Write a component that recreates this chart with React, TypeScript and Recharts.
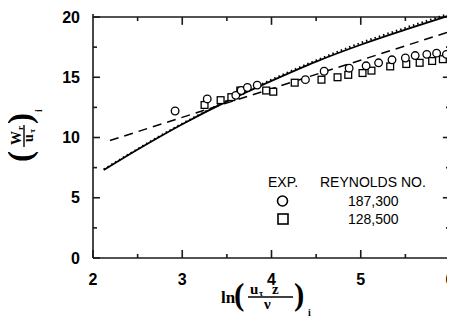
import React from "react";
import { ComposedChart, Line, XAxis, YAxis, ReferenceLine } from "recharts";

// axis ticks (integers get labels, halves are minor ticks)
const xTicks = [2, 2.5, 3, 3.5, 4, 4.5, 5, 5.5, 6];
const yTicks = [0, 2.5, 5, 7.5, 10, 12.5, 15, 17.5, 20];

// experiment, Re = 187,300 (circles)
const circleX = [2.92, 3.28, 3.6, 3.66, 3.73, 3.84, 4.38, 4.59, 4.87, 5.06, 5.2, 5.35, 5.5, 5.61, 5.74, 5.85, 5.96];
const circleY = [12.2, 13.2, 13.5, 13.9, 14.15, 14.35, 14.8, 15.5, 15.75, 15.95, 16.2, 16.45, 16.6, 16.8, 16.9, 17.0, 16.9];

// experiment, Re = 128,500 (squares)
const squareX = [3.25, 3.43, 3.55, 3.65, 3.94, 4.02, 4.26, 4.56, 4.74, 4.86, 5.02, 5.12, 5.33, 5.51, 5.66, 5.8, 5.92];
const squareY = [12.7, 13.1, 13.35, 13.9, 13.9, 13.8, 14.55, 14.8, 15.0, 15.2, 15.35, 15.55, 15.9, 16.1, 16.2, 16.35, 16.5];

// computed curves
const curveX = [2.12, 2.5, 3.0, 3.5, 4.0, 4.5, 5.0, 5.5, 5.98];
const solidY = [7.3, 9.0, 11.1, 13.0, 14.7, 16.3, 17.7, 18.95, 20.1];
const dottedY = [7.35, 9.05, 11.15, 13.05, 14.8, 16.4, 17.85, 19.1, 20.25];

// log-law line
const logX = [2.19, 5.98];
const logY = [9.75, 18.75];

const zip = (xs: number[], ys: number[]) => xs.map((x, i) => ({ x, y: ys[i] }));

const circles = zip(circleX, circleY);
const squares = zip(squareX, squareY);
const solid = zip(curveX, solidY);
const dotted = zip(curveX, dottedY);
const logLaw = zip(logX, logY);

const tickFont = "'Liberation Sans', Arial, sans-serif";
const serif = "'Liberation Serif', 'DejaVu Serif', serif";
const ink = "#1a1a1a";

const isMajorX = (v: number) => Number.isInteger(v);
const isMajorY = (v: number) => v % 5 === 0;

const BottomTick = ({ x, y, payload }: any) => (
  <g>
    <line x1={x} x2={x} y1={y} y2={y - (isMajorX(payload.value) ? 8 : 4)} stroke={ink} strokeWidth={1.6} />
    {isMajorX(payload.value) && (
      <text x={x} y={y + 21} textAnchor="middle" dominantBaseline="central" fontFamily={tickFont} fontWeight="bold" fontSize={16} fill="#000">
        {payload.value}
      </text>
    )}
  </g>
);

const LeftTick = ({ x, y, payload }: any) => (
  <g>
    <line x1={x} x2={x + (isMajorY(payload.value) ? 7 : 4)} y1={y} y2={y} stroke={ink} strokeWidth={1.6} />
    {isMajorY(payload.value) && (
      <text x={x - 13} y={y} textAnchor="end" dominantBaseline="central" fontFamily={tickFont} fontWeight="bold" fontSize={16} fill="#000">
        {payload.value}
      </text>
    )}
  </g>
);

const CircleDot = ({ cx, cy, index }: any) => (
  <circle key={"c" + index} cx={cx} cy={cy} r={3.8} fill="#fff" stroke="#000" strokeWidth={1.3} />
);
const SquareDot = ({ cx, cy, index }: any) => (
  <rect key={"s" + index} x={cx - 3.4} y={cy - 3.4} width={6.8} height={6.8} fill="#fff" stroke="#000" strokeWidth={1.3} />
);

// inward tick marks on the top and right frame, in data units (about 8px / 4px long)
const topTicks = xTicks.filter((v) => v > 2 && v < 6).map((v) => ({ v, len: isMajorX(v) ? 0.65 : 0.33 }));
const rightTicks = yTicks.filter((v) => v > 0 && v < 20).map((v) => ({ v, len: isMajorY(v) ? 0.08 : 0.045 }));

const Labels = () => (
  <svg width={455} height={332} style={{ position: "absolute", left: -8, top: -8, pointerEvents: "none" }}>
    {/* y axis label */}
    <g transform="translate(23,137) rotate(-90)" fontFamily={serif} fontWeight="bold" fill="#000">
      <text x={-25} y={7.7} fontSize={33}>(</text>
      <text x={-8} y={-2} fontSize={14}>W</text>
      <text x={7} y={0} fontSize={9}>r</text>
      <line x1={-10} x2={12} y1={1} y2={1} stroke="#000" strokeWidth={1.4} />
      <text x={-5} y={10} fontSize={14}>u</text>
      <text x={4} y={12} fontSize={9}>τ</text>
      <text x={13} y={7.7} fontSize={33}>)</text>
      <text x={25} y={19} fontSize={10}>i</text>
    </g>
    {/* x axis label */}
    <g fontFamily={serif} fontWeight="bold" fill="#000">
      <text x={221} y={303} fontSize={17}>ln</text>
      <text x={234} y={305} fontSize={31}>(</text>
      <text x={250} y={294} fontSize={15}>u</text>
      <text x={259} y={296} fontSize={9}>τ</text>
      <text x={272} y={294} fontSize={15}>z</text>
      <line x1={248} x2={293} y1={297} y2={297} stroke="#000" strokeWidth={1.3} />
      <text x={264} y={309} fontSize={15}>ν</text>
      <text x={294} y={305} fontSize={31}>)</text>
      <text x={308} y={316} fontSize={10}>i</text>
    </g>
    {/* legend */}
    <g fontFamily={tickFont} fontSize={14} fill="#000">
      <text x={268} y={187}>EXP.</text>
      <text x={320} y={187}>REYNOLDS NO.</text>
      <circle cx={282.5} cy={201} r={5} fill="#fff" stroke="#000" strokeWidth={1.6} />
      <text x={348} y={205.5}>187,300</text>
      <rect x={278} y={214} width={10} height={10} fill="#fff" stroke="#000" strokeWidth={1.6} />
      <text x={348} y={223.5}>128,500</text>
    </g>
  </svg>
);

export default function App() {
  return (
    <div style={{ position: "relative", width: 447, height: 316 }}>
      <ComposedChart width={447} height={316} margin={{ top: 6, right: 5, bottom: 0, left: 0 }}>
        <XAxis dataKey="x" type="number" domain={[2, 6]} ticks={xTicks} interval={0} height={66}
          tickSize={0} tickMargin={0} tick={BottomTick} stroke={ink} strokeWidth={1.6} />
        <YAxis type="number" domain={[0, 20]} ticks={yTicks} interval={0} width={85}
          tickSize={0} tickMargin={0} tick={LeftTick} stroke={ink} strokeWidth={1.6} />
        <ReferenceLine x={6} stroke={ink} strokeWidth={1.6} />
        <ReferenceLine y={20} stroke={ink} strokeWidth={1.6} />
        {topTicks.map((t) => (
          <ReferenceLine key={"t" + t.v} segment={[{ x: t.v, y: 20 }, { x: t.v, y: 20 - t.len }]} stroke={ink} strokeWidth={1.6} />
        ))}
        {rightTicks.map((t) => (
          <ReferenceLine key={"r" + t.v} segment={[{ x: 6, y: t.v }, { x: 6 - t.len, y: t.v }]} stroke={ink} strokeWidth={1.6} />
        ))}
        <Line data={logLaw} dataKey="y" type="linear" stroke="#000" strokeWidth={1.5} strokeDasharray="9 6" dot={false} isAnimationActive={false} />
        <Line data={solid} dataKey="y" type="monotone" stroke="#000" strokeWidth={1.8} dot={false} isAnimationActive={false} />
        <Line data={dotted} dataKey="y" type="monotone" stroke="#000" strokeWidth={2} strokeDasharray="1.5 3" dot={false} isAnimationActive={false} />
        <Line data={squares} dataKey="y" stroke="none" dot={SquareDot} activeDot={false} isAnimationActive={false} />
        <Line data={circles} dataKey="y" stroke="none" dot={CircleDot} activeDot={false} isAnimationActive={false} />
      </ComposedChart>
      <Labels />
    </div>
  );
}
